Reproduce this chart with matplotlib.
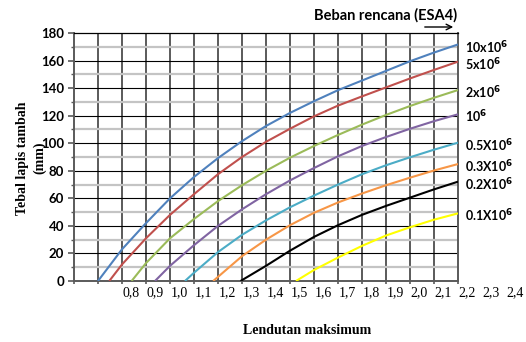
import matplotlib.pyplot as plt
from matplotlib.transforms import ScaledTranslation

plt.rcParams['mathtext.fontset'] = 'dejavusans'

# Kurva tebal lapis tambah vs lendutan untuk tiap beban rencana
labels = ['10x10$^{\\mathbf{6}}$', '5x10$^{\\mathbf{6}}$', '2x10$^{\\mathbf{6}}$', '10$^{\\mathbf{6}}$',
          '0.5X10$^{\\mathbf{6}}$', '0.3X10$^{\\mathbf{6}}$', '0.2X10$^{\\mathbf{6}}$', '0.1X10$^{\\mathbf{6}}$']
colors = ['#4f81bd', '#c0504d', '#9bbb59', '#8064a2', '#4bacc6', '#f79646', '#000000', '#ffff00']

x_10 = [0.70, 0.8, 0.9, 1.0, 1.1, 1.2, 1.3, 1.4, 1.5, 1.6, 1.7, 1.8, 1.9, 2.0, 2.1, 2.2]
y_10 = [0, 23, 42, 60, 75.5, 89.2, 101.5, 112.5, 122, 130.5, 138.5, 145.5, 152.5, 159.5, 165.8, 171.7]

x_5 = [0.747, 0.8, 0.9, 1.0, 1.1, 1.2, 1.3, 1.4, 1.5, 1.6, 1.7, 1.8, 1.9, 2.0, 2.1, 2.2]
y_5 = [0, 12, 31, 48, 63, 77.5, 90, 101, 110.5, 119.5, 127.3, 134, 140.5, 147, 153.2, 159.2]

x_2 = [0.84, 0.9, 1.0, 1.1, 1.2, 1.3, 1.4, 1.5, 1.6, 1.7, 1.8, 1.9, 2.0, 2.1, 2.2]
y_2 = [0, 13, 31, 45, 58, 69.5, 80, 89.5, 98, 106, 113.5, 120.5, 127, 133, 138.6]

x_1 = [0.9375, 1.0, 1.1, 1.2, 1.3, 1.4, 1.5, 1.6, 1.7, 1.8, 1.9, 2.0, 2.1, 2.2]
y_1 = [0, 11, 26, 40, 52, 63, 73, 82, 90.5, 98, 104.5, 110.5, 116, 121]

x_05 = [1.0625, 1.1, 1.2, 1.3, 1.4, 1.5, 1.6, 1.7, 1.8, 1.9, 2.0, 2.1, 2.2]
y_05 = [0, 6, 21, 33.5, 44, 53.5, 62, 70, 77.5, 84, 89.8, 95.3, 100.4]

x_03 = [1.18, 1.2, 1.3, 1.4, 1.5, 1.6, 1.7, 1.8, 1.9, 2.0, 2.1, 2.2]
y_03 = [0, 3, 18, 30, 40.5, 49.5, 57, 63.5, 69.5, 75, 80.2, 84.9]

x_02 = [1.294, 1.4, 1.5, 1.6, 1.7, 1.8, 1.9, 2.0, 2.1, 2.2]
y_02 = [0, 11, 22, 32, 40.5, 48, 54.5, 60.5, 66.5, 72.1]

x_01 = [1.525, 1.6, 1.7, 1.8, 1.9, 2.0, 2.1, 2.2]
y_01 = [0, 8, 17, 25.5, 33, 39, 44.5, 49.1]

xs = [x_10, x_5, x_2, x_1, x_05, x_03, x_02, x_01]
ys = [y_10, y_5, y_2, y_1, y_05, y_03, y_02, y_01]

xtick_values = [0.8, 0.9, 1.0, 1.1, 1.2, 1.3, 1.4, 1.5, 1.6, 1.7, 1.8, 1.9, 2.0, 2.1, 2.2, 2.3, 2.4]

fig = plt.figure(figsize=(5.26, 3.42), dpi=100)
ax = fig.add_axes([74 / 526, 61 / 342, 384 / 526, 248 / 342])

ax.set_xlim(0.6, 2.2)
ax.set_ylim(0, 180)

# grid: vertikal abu gelap, horizontal hitam tiap 20 dan abu muda tiap 10
for gx in [0.6 + 0.1 * i for i in range(1, 16)]:
    ax.axvline(gx, color='#5a5a5a', lw=1.4, zorder=1)
for gy in range(10, 180, 20):
    ax.axhline(gy, color='#c4c4c4', lw=1.6, zorder=1)
for gy in range(20, 180, 20):
    ax.axhline(gy, color='black', lw=0.8, zorder=1)

for s in ['left', 'right', 'bottom']:
    ax.spines[s].set_color('#5a5a5a')
    ax.spines[s].set_linewidth(1.4)
ax.spines['top'].set_color('black')
ax.spines['top'].set_linewidth(0.9)

for x, y, c in zip(xs, ys, colors):
    ax.plot(x, y, color=c, lw=1.5, zorder=3, solid_capstyle='butt')

# label beban di ujung kanan kurva
for y, lab in zip(ys, labels):
    ax.annotate(lab, xy=(2.2, y[-1]), xytext=(5, -2), textcoords='offset points',
                ha='left', va='center', fontsize=9, fontweight='bold', family='Lato',
                annotation_clip=False)

ax.set_yticks(range(0, 181, 20))
ax.set_yticks(range(10, 180, 20), minor=True)
ax.tick_params(axis='y', which='major', length=4, width=1.2, color='#5a5a5a', pad=3)
ax.tick_params(axis='y', which='minor', length=2.5, width=1.0, color='#5a5a5a')
for t in ax.get_yticklabels():
    t.set_fontfamily('Lato')
    t.set_fontweight('bold')
    t.set_fontsize(9.5)

ax.set_xticks([0.6 + 0.1 * i for i in range(17)])
ax.set_xticklabels([])
ax.tick_params(axis='x', length=2, width=1.2, color='#5a5a5a')

# label sumbu x bergeser sedikit ke kanan dari garis grid
shift = ScaledTranslation(9 / 100, 0, fig.dpi_scale_trans)
for v in xtick_values:
    ax.text(v, -0.022, f'{v:.1f}'.replace('.', ','), transform=ax.get_xaxis_transform() + shift,
            ha='center', va='top', fontsize=10, family='Liberation Serif', clip_on=False)

fig.text(307 / 526, 1 - 330 / 342, 'Lendutan maksimum', ha='center', va='center',
         fontsize=10, fontweight='bold', family='Liberation Serif')
fig.text(31 / 526, 1 - 158 / 342, 'Tebal lapis tambah\n(mm)', ha='center', va='center',
         rotation=90, fontsize=10, fontweight='bold', family='Liberation Serif',
         multialignment='center', linespacing=1.4)

fig.text(386 / 526, 1 - 15 / 342, 'Beban rencana (ESA4)', ha='center', va='center',
         fontsize=10.5, fontweight='bold', family='Lato')
ax.annotate('', xy=(456 / 526, 1 - 27 / 342), xytext=(422 / 526, 1 - 27 / 342),
            xycoords='figure fraction', textcoords='figure fraction',
            arrowprops=dict(arrowstyle='->', color='black', lw=1.0))

fig.savefig('out.png', dpi=100)
